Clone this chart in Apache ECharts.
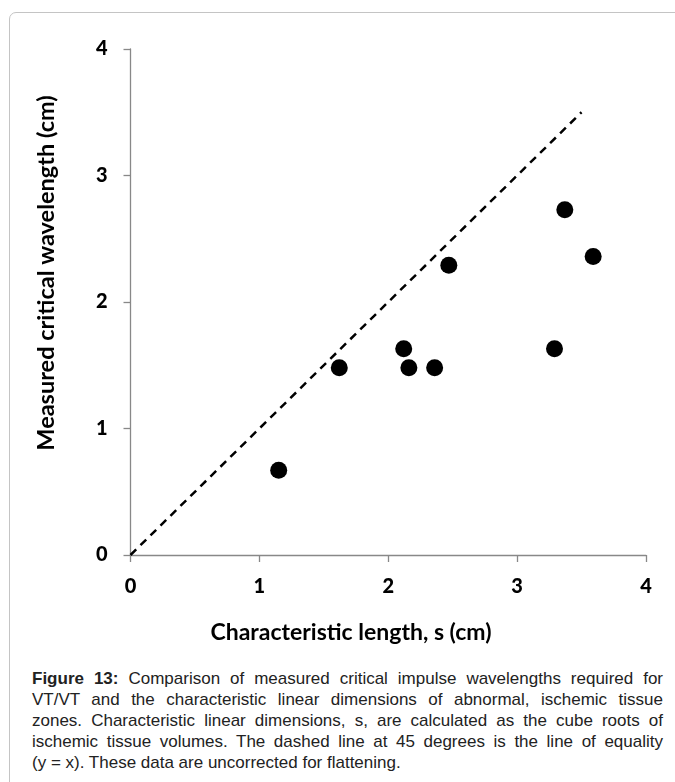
<!DOCTYPE html>
<html>
<head>
<meta charset="utf-8">
<script src="https://cdn.jsdelivr.net/npm/echarts@6/dist/echarts.min.js"></script>
<style>
  html, body { margin: 0; padding: 0; background: #fff; }
  #wrap { position: relative; width: 675px; height: 782px; overflow: hidden; }
  #frame { position: absolute; left: 9px; top: 12px; width: 700px; height: 800px;
           border: 1.5px solid #c4c4c4; border-radius: 7px; box-sizing: border-box; }
  #chart { position: absolute; left: 0; top: 0; width: 675px; height: 660px; }
  #caption { position: absolute; left: 32px; top: 668px; width: 631px;
             font-family: "Liberation Sans", Arial, sans-serif; font-size: 17px;
             line-height: 21px; color: #222; }
  #caption .ln { display: block; white-space: nowrap; text-align: justify; text-align-last: justify; }
  #caption .ln.last { text-align: left; text-align-last: left; }
  #caption b { font-weight: bold; }
</style>
</head>
<body>
<div id="wrap">
  <div id="frame"></div>
  <div id="chart"></div>
  <div id="caption"><span class="ln"><b>Figure 13:</b> Comparison of measured critical impulse wavelengths required for</span><span class="ln">VT/VT and the characteristic linear dimensions of abnormal, ischemic tissue</span><span class="ln">zones. Characteristic linear dimensions, s, are calculated as the cube roots of</span><span class="ln">ischemic tissue volumes. The dashed line at 45 degrees is the line of equality</span><span class="ln last">(y = x). These data are uncorrected for flattening.</span></div>
</div>
<script>
var xTitle = 'Characteristic length, s (cm)';
var yTitle = 'Measured critical wavelength (cm)';
var charLength = [1.15, 1.62, 2.12, 2.16, 2.36, 2.47, 3.29, 3.37, 3.59];
var critWavelength = [0.67, 1.48, 1.63, 1.48, 1.48, 2.29, 1.63, 2.73, 2.36];
var equalityLine = [0, 3.5];
var axisMin = 0, axisMax = 4, axisStep = 1;

var points = charLength.map(function (x, i) { return [x, critWavelength[i]]; });
var eqData = equalityLine.map(function (v) { return [v, v]; });

var font = 'Lato, "Open Sans", sans-serif';
var axisLineStyle = { color: '#888888', width: 1.3 };
var labelStyle = { fontFamily: font, fontWeight: 900, fontSize: 20, color: '#000' };

var chart = echarts.init(document.getElementById('chart'), null, { renderer: 'canvas' });
chart.setOption({
  animation: false,
  grid: { left: 130.5, right: 29, top: 49, bottom: 105 },
  graphic: [
    {
      type: 'text', position: [351, 633],
      style: { text: xTitle, x: 0, y: 0, align: 'center', verticalAlign: 'middle',
               font: 'bold 23px ' + font, fill: '#000' },
      silent: true
    },
    {
      type: 'text', position: [46, 273], rotation: Math.PI / 2,
      style: { text: yTitle, x: 0, y: 0, align: 'center', verticalAlign: 'middle',
               font: 'bold 23.5px ' + font, fill: '#000' },
      silent: true
    }
  ],
  xAxis: {
    type: 'value', min: axisMin, max: axisMax, interval: axisStep,
    axisLine: { show: true, onZero: false, lineStyle: axisLineStyle },
    axisTick: { show: true, inside: false, length: 7, lineStyle: axisLineStyle },
    axisLabel: Object.assign({ margin: 22 }, labelStyle),
    splitLine: { show: false }
  },
  yAxis: {
    type: 'value', min: axisMin, max: axisMax, interval: axisStep,
    axisLine: { show: true, onZero: false, lineStyle: axisLineStyle },
    axisTick: { show: true, inside: false, length: 7, lineStyle: axisLineStyle },
    axisLabel: Object.assign({ margin: 23 }, labelStyle),
    splitLine: { show: false }
  },
  series: [
    {
      type: 'line', data: eqData, symbol: 'none', silent: true,
      lineStyle: { color: '#000', width: 2.5, type: [8, 6] }
    },
    {
      type: 'scatter', data: points, symbol: 'circle', symbolSize: 17,
      itemStyle: { color: '#000', opacity: 1 }
    }
  ]
});
</script>
</body>
</html>
